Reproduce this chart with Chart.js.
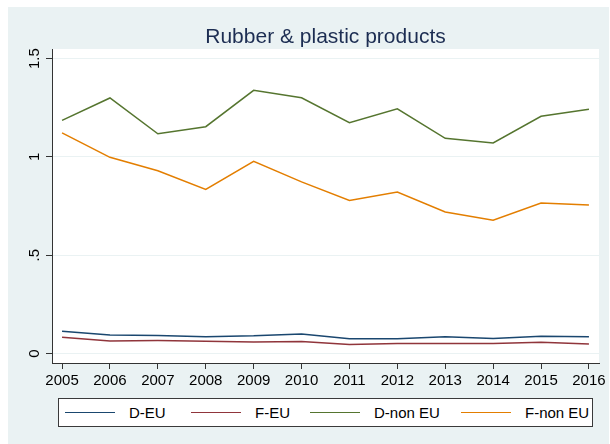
<!DOCTYPE html>
<html>
<head>
<meta charset="utf-8">
<script src="https://cdn.jsdelivr.net/npm/chart.js@4.4.1/dist/chart.umd.min.js"></script>
<style>
  html, body { margin: 0; padding: 0; background: #fff; }
  #wrap { position: relative; width: 610px; height: 444px; font-family: "Liberation Sans", Arial, sans-serif; }
  #chart { position: absolute; left: 0; top: 0; }
  #legend { position: absolute; left: 58px; top: 398px; width: 533px; height: 27px; background: #fff; border: 1px solid #3a3a3a; }
  .item { position: absolute; top: 0; height: 27px; line-height: 27px; font-size: 15px; color: #000; }
  .item .ln { position: absolute; left: 0; top: 13px; width: 50px; height: 0; border-top: 1.5px solid; }
  .item .tx { position: absolute; left: 64px; top: 0; white-space: nowrap; }
</style>
</head>
<body>
<div id="wrap">
  <canvas id="chart" width="610" height="444"></canvas>
  <div id="legend"></div>
</div>
<script>
const years = [2005, 2006, 2007, 2008, 2009, 2010, 2011, 2012, 2013, 2014, 2015, 2016];
const dEU    = [0.113, 0.095, 0.092, 0.086, 0.090, 0.100, 0.075, 0.075, 0.085, 0.076, 0.088, 0.086];
const fEU    = [0.083, 0.064, 0.066, 0.063, 0.059, 0.061, 0.046, 0.051, 0.051, 0.051, 0.058, 0.049];
const dNonEU = [1.186, 1.300, 1.118, 1.154, 1.339, 1.301, 1.174, 1.245, 1.095, 1.071, 1.207, 1.242];
const fNonEU = [1.122, 0.998, 0.930, 0.835, 0.978, 0.873, 0.779, 0.822, 0.720, 0.678, 0.766, 0.756];
const seriesNames = ['D-EU', 'F-EU', 'D-non EU', 'F-non EU'];
const yTickValues = [0, 0.5, 1, 1.5];
const yTickLabels = ['0', '.5', '1', '1.5'];

const colors = ['#1a476f', '#90353b', '#55752f', '#e37e00'];
const legendX = [6, 132, 251, 402];

function pts(arr) {
  return arr.map((v, i) => ({ x: years[i], y: v }));
}

// fonds : blanc, zone grise-bleue, zone de tracé blanche
const bgPlugin = {
  id: 'bg',
  beforeDraw(chart) {
    const c = chart.ctx, a = chart.chartArea;
    c.save();
    c.fillStyle = '#ffffff';
    c.fillRect(0, 0, chart.width, chart.height);
    c.fillStyle = '#eaf2f3';
    c.fillRect(8, 7, 601, 437);
    c.fillStyle = '#ffffff';
    c.fillRect(a.left, a.top, a.right - a.left, a.bottom - a.top);
    c.restore();
  }
};

// étiquettes de l'axe Y tournées à 90°
const yLabelPlugin = {
  id: 'ylabels',
  afterDraw(chart) {
    const c = chart.ctx, y = chart.scales.y;
    c.save();
    c.fillStyle = '#000';
    c.font = '15px "Liberation Sans", Arial, sans-serif';
    c.textAlign = 'center';
    c.textBaseline = 'middle';
    yTickValues.forEach((v, i) => {
      const py = y.getPixelForValue(v);
      c.save();
      c.translate(35, py);
      c.rotate(-Math.PI / 2);
      c.fillText(yTickLabels[i], 0, 0);
      c.restore();
    });
    c.restore();
  }
};

const datasets = [dEU, fEU, dNonEU, fNonEU].map((arr, i) => ({
  label: seriesNames[i],
  data: pts(arr),
  borderColor: colors[i],
  backgroundColor: colors[i],
  borderWidth: 1.5,
  pointRadius: 0,
  tension: 0,
  fill: false
}));

new Chart(document.getElementById('chart'), {
  type: 'line',
  data: { datasets: datasets },
  options: {
    responsive: false,
    animation: false,
    layout: { padding: { left: 8, right: 11, top: 0, bottom: 55 } },
    plugins: {
      legend: { display: false },
      tooltip: { enabled: false },
      title: {
        display: true,
        text: 'Rubber & plastic products',
        color: '#1c2d52',
        font: { family: '"Liberation Sans", Arial, sans-serif', size: 21, weight: 'normal', lineHeight: 1 },
        padding: { top: 27, bottom: 1 },
        fullSize: false
      }
    },
    scales: {
      x: {
        type: 'linear',
        min: 2004.79,
        max: 2016.21,
        afterBuildTicks(s) { s.ticks = years.map(v => ({ value: v })); },
        afterFit(s) { s.height = 26; },
        ticks: {
          color: '#000',
          font: { family: '"Liberation Sans", Arial, sans-serif', size: 15 },
          padding: 3,
          maxRotation: 0,
          autoSkip: false,
          callback: v => String(v)
        },
        grid: { drawOnChartArea: false, drawTicks: true, tickLength: 6, tickColor: '#333' },
        border: { display: true, color: '#333', width: 1 }
      },
      y: {
        type: 'linear',
        min: -0.048,
        max: 1.549,
        afterBuildTicks(s) { s.ticks = yTickValues.map(v => ({ value: v })); },
        afterFit(s) { s.width = 44; },
        ticks: { display: false },
        grid: { color: '#eaf2f3', lineWidth: 1, drawTicks: true, tickLength: 6, tickColor: '#333' },
        border: { display: true, color: '#333', width: 1 }
      }
    }
  },
  plugins: [bgPlugin, yLabelPlugin]
});

// légende HTML
const leg = document.getElementById('legend');
seriesNames.forEach((name, i) => {
  const it = document.createElement('div');
  it.className = 'item';
  it.style.left = legendX[i] + 'px';
  it.innerHTML = '<span class="ln" style="border-color:' + colors[i] + '"></span><span class="tx">' + name + '</span>';
  leg.appendChild(it);
});
</script>
</body>
</html>
